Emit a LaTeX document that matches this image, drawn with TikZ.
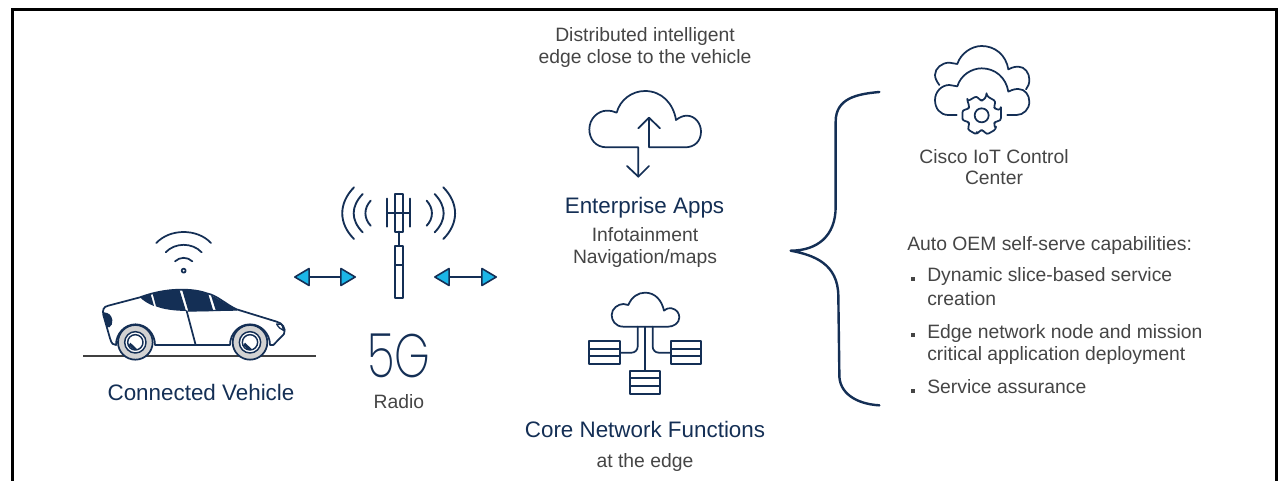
\documentclass[tikz,border=0pt]{standalone}
\usepackage{fontspec}
\setmainfont{Liberation Sans}
\newfontfamily\thinfont{Poppins ExtraLight}
\usetikzlibrary{arrows.meta}
\definecolor{navy}{HTML}{142F55}
\definecolor{txt}{HTML}{454545}
\definecolor{cyanfill}{HTML}{1BB6E8}
\definecolor{tyre}{HTML}{D2D2D2}
\tikzset{
  icon/.style={draw=navy,line width=1.3pt,line cap=round,line join=round},
  thinicon/.style={draw=navy,line width=1.4pt,line cap=round,line join=round},
  zoomed/.style={x=0.25pt,y=-0.25pt},
  body/.style={font=\fontsize{14.5pt}{17pt}\selectfont,text=txt,inner sep=0pt,anchor=base west},
  bodyc/.style={font=\fontsize{14.5pt}{17pt}\selectfont,text=txt,inner sep=0pt,anchor=base},
  head/.style={font=\fontsize{16.8pt}{20pt}\selectfont,text=navy,inner sep=0pt,anchor=base},
  link/.style={draw=navy,line width=1.4pt,line join=round,{Triangle[length=12.5pt,width=14.5pt,round,line width=1.2pt,fill=cyanfill]}-{Triangle[length=12.5pt,width=14.5pt,round,line width=1.2pt,fill=cyanfill]}},
  bullet/.style={fill=txt,draw=none,minimum size=3.6pt,inner sep=0pt,rectangle},
}
\begin{document}
\begin{tikzpicture}[x=0.75pt,y=-0.75pt]
\useasboundingbox (0,0) rectangle (1280,481);
\fill[white] (0,0) rectangle (1280,481);
\draw[black,line width=2.25pt] (12.5,481) -- (12.5,9.5) -- (1276,9.5) -- (1276,481);

% ---- car
\begin{scope}[shift={(60,170)},zoomed]
  \draw[draw=black!75,line width=1.4pt] (70,559) -- (768,559);
  \draw[icon] (285,525) -- (510,525)
    arc[start angle=180,end angle=0,x radius=60,y radius=-62]
    -- (640,525) -- (672,492) .. controls (680,475) and (665,458) .. (650,455)
    -- (530,418) .. controls (500,405) and (470,375) .. (440,370)
    .. controls (400,355) and (320,352) .. (240,382)
    -- (145,407) .. controls (130,410) and (127,420) .. (130,435)
    -- (150,505) .. controls (155,522) and (160,525) .. (168,525)
    arc[start angle=180,end angle=0,x radius=58.5,y radius=-62] -- cycle;
  \fill[navy] (240,382) -- (272,373) -- (282,408) .. controls (265,402) and (250,392) .. (240,382) -- cycle;
  \fill[navy] (278,371) .. controls (305,362) and (335,358) .. (358,358) -- (378,423) .. controls (340,422) and (310,418) .. (288,409) -- cycle;
  \fill[navy] (366,358) .. controls (395,358) and (425,364) .. (445,373) -- (460,423) -- (385,423) -- cycle;
  \fill[navy] (453,376) .. controls (480,388) and (505,408) .. (532,420) -- (468,423) -- cycle;
  \draw[icon] (380,423) -- (407,525);
  \draw[icon,line width=1pt] (385,423) -- (530,420);
  \fill[navy] (132,427) .. controls (145,428) and (155,435) .. (157,450) .. controls (158,460) and (155,468) .. (148,472) -- (140,470) -- (130,435) -- cycle;
  \draw[icon,line width=1pt] (650,462) -- (665,463) -- (672,482) .. controls (662,478) and (655,472) .. (650,462) -- cycle;
  \foreach \wx/\wname in {226/rear,570/front}{
    \draw[icon,fill=tyre] (\wx,517) circle (52);
    \draw[icon,line width=1.1pt,fill=white] (\wx,517) circle (32);
    \draw[icon,line width=1.1pt,fill=white] (\wx,517) circle (23);
    \fill[navy] (\wx-15,518) -- (\wx+5,537) -- (\wx-4,540) -- (\wx-20,526) -- cycle;
  }
  % wifi
  \draw[icon] (371,302) circle (6);
  \draw[icon] (345,274) .. controls (360,260) and (382,260) .. (397,274);
  \draw[icon] (317,247) .. controls (345,217) and (397,217) .. (425,247);
  \draw[icon] (289,219) .. controls (330,175) and (412,175) .. (453,219);
\end{scope}

% ---- tower
\begin{scope}[shift={(280,170)},zoomed]
  \draw[thinicon] (345,72) rectangle (368,185);
  \draw[thinicon] (322,86) -- (322,170);
  \draw[thinicon] (390,86) -- (390,170);
  \draw[thinicon] (322,128) -- (390,128);
  \draw[thinicon] (356,185) -- (356,228);
  \draw[thinicon] (345,228) rectangle (368,384);
  \draw[thinicon] (345,284) -- (368,284);
  \draw[thinicon] (222,52) .. controls (175,100) and (175,160) .. (222,207);
  \draw[thinicon] (248,72) .. controls (212,110) and (212,150) .. (248,187);
  \draw[thinicon] (272,92) .. controls (251,115) and (251,145) .. (272,167);
  \draw[thinicon] (490,52) .. controls (537,100) and (537,160) .. (490,207);
  \draw[thinicon] (464,72) .. controls (500,110) and (500,150) .. (464,187);
  \draw[thinicon] (440,92) .. controls (461,115) and (461,145) .. (440,167);
\end{scope}

% ---- links
\coordinate (car end) at (294,277);
\coordinate (radio west) at (356,277);
\coordinate (radio east) at (434,277);
\coordinate (edge end) at (497,277);
\draw[link] (car end) -- (radio west);
\draw[link] (radio east) -- (edge end);

% ---- enterprise cloud
\begin{scope}[shift={(570,70)},zoomed]
  \draw[icon] (237,175) -- (237,232) -- (345,232)
    .. controls (375,232) and (393,212) .. (393,185)
    .. controls (393,160) and (375,137) .. (350,137)
    .. controls (340,137) and (328,142) .. (318,150)
    .. controls (310,100) and (275,63) .. (225,63)
    .. controls (185,63) and (150,90) .. (140,128)
    .. controls (132,124) and (122,122) .. (110,122)
    .. controls (85,122) and (58,145) .. (58,178)
    .. controls (58,205) and (75,232) .. (110,232) -- (205,232) -- (205,320);
  \draw[icon] (237,143) -- (237,175);
  \draw[icon] (205,175) -- (237,143) -- (270,175);
  \draw[icon] (171,288) -- (205,320) -- (237,288);
\end{scope}

% ---- core network icon
\begin{scope}[shift={(560,280)},zoomed]
  \draw[icon] (190,140) .. controls (165,140) and (155,120) .. (155,105)
    .. controls (155,85) and (175,72) .. (190,72) -- (205,75)
    .. controls (215,50) and (235,38) .. (255,38)
    .. controls (285,38) and (305,60) .. (312,92)
    .. controls (320,85) and (330,83) .. (335,85)
    .. controls (350,88) and (358,100) .. (358,112)
    .. controls (358,130) and (340,140) .. (325,140) -- cycle;
  \draw[icon] (255,140) -- (255,272);
  \draw[icon,rounded corners=4.5pt] (233,140) -- (233,218) -- (180,218);
  \draw[icon,rounded corners=4.5pt] (278,140) -- (278,218) -- (332,218);
  \foreach \bx/\by in {88/183,332/183,210/272}{
    \draw[icon,line cap=butt] (\bx,\by) rectangle (\bx+91,\by+69);
    \draw[icon,line cap=butt] (\bx,\by+23) -- (\bx+91,\by+23);
    \draw[icon,line cap=butt] (\bx,\by+46) -- (\bx+91,\by+46);
  }
\end{scope}

% ---- brace
\begin{scope}[shift={(770,80)},zoomed]
  \draw[icon,line width=1.8pt] (328,36) .. controls (260,42) and (197,55) .. (197,125)
    -- (197,380) .. controls (197,470) and (140,512) .. (62,512)
    .. controls (130,525) and (205,550) .. (205,650)
    -- (208,880) .. controls (205,940) and (260,972) .. (328,976);
\end{scope}

% ---- IoT clouds
\begin{scope}[shift={(900,40)},zoomed]
  \draw[icon] (118,135) .. controls (108,122) and (105,112) .. (105,105)
    .. controls (105,85) and (125,68) .. (148,68) -- (172,72)
    .. controls (182,40) and (215,18) .. (245,18)
    .. controls (285,18) and (318,45) .. (325,88)
    .. controls (340,80) and (350,80) .. (355,80)
    .. controls (375,80) and (388,100) .. (388,118)
    .. controls (388,130) and (385,140) .. (378,148);
  \draw[icon] (170,225) -- (145,225)
    .. controls (120,225) and (105,205) .. (105,180)
    .. controls (105,155) and (125,135) .. (148,135) -- (172,139)
    .. controls (182,105) and (215,85) .. (245,85)
    .. controls (285,85) and (318,112) .. (325,155)
    .. controls (340,147) and (350,147) .. (355,147)
    .. controls (375,147) and (388,165) .. (388,185)
    .. controls (388,208) and (370,225) .. (350,225) -- (322,225);
  \draw[icon] (245,226) circle (21);
  \begin{scope}[shift={(245,226)}]
    \draw[icon,rounded corners=2pt]
      (-16:60)
      \foreach \a in {0,60,...,300}{ -- (\a-16:60) -- (\a+16:60) -- (\a+23:45) -- (\a+37:45) -- (\a+44:60)}
      -- cycle;
  \end{scope}
\end{scope}

% ---- text
\node[bodyc] (t1) at (645,41.5) {Distributed intelligent};
\node[bodyc] (t2) at (645,64) {edge close to the vehicle};
\node[head] (ent) at (644.5,213) {Enterprise Apps};
\node[bodyc] (inf) at (645,241) {Infotainment};
\node[bodyc] (nav) at (645,263) {Navigation/maps};
\node[head] (core) at (645,437) {Core Network Functions};
\node[bodyc] (edge) at (645,467) {at the edge};
\node[head] (veh) at (201,400.5) {Connected Vehicle};
\node[bodyc] (radio) at (399,408.5) {Radio};
\node[font=\thinfont\fontsize{46pt}{46pt}\selectfont,text=navy,inner sep=0pt,anchor=base,xscale=0.74] (fiveg) at (399,377) {5G};
\node[bodyc] (cisco1) at (994,163) {Cisco IoT Control};
\node[bodyc] (cisco2) at (994,185) {Center};
\node[body] (oem) at (907,250.5) {Auto OEM self-serve capabilities:};
\node[body] (b1) at (927,281.5) {Dynamic slice-based service};
\node[body] (b1b) at (927,305.5) {creation};
\node[body] (b2) at (927,338) {Edge network node and mission};
\node[body] (b2b) at (927,360.5) {critical application deployment};
\node[body] (b3) at (927,393.5) {Service assurance};
\node[bullet] (d1) at (913,279) {};
\node[bullet] (d2) at (913,335) {};
\node[bullet] (d3) at (913,391) {};
\end{tikzpicture}
\end{document}
